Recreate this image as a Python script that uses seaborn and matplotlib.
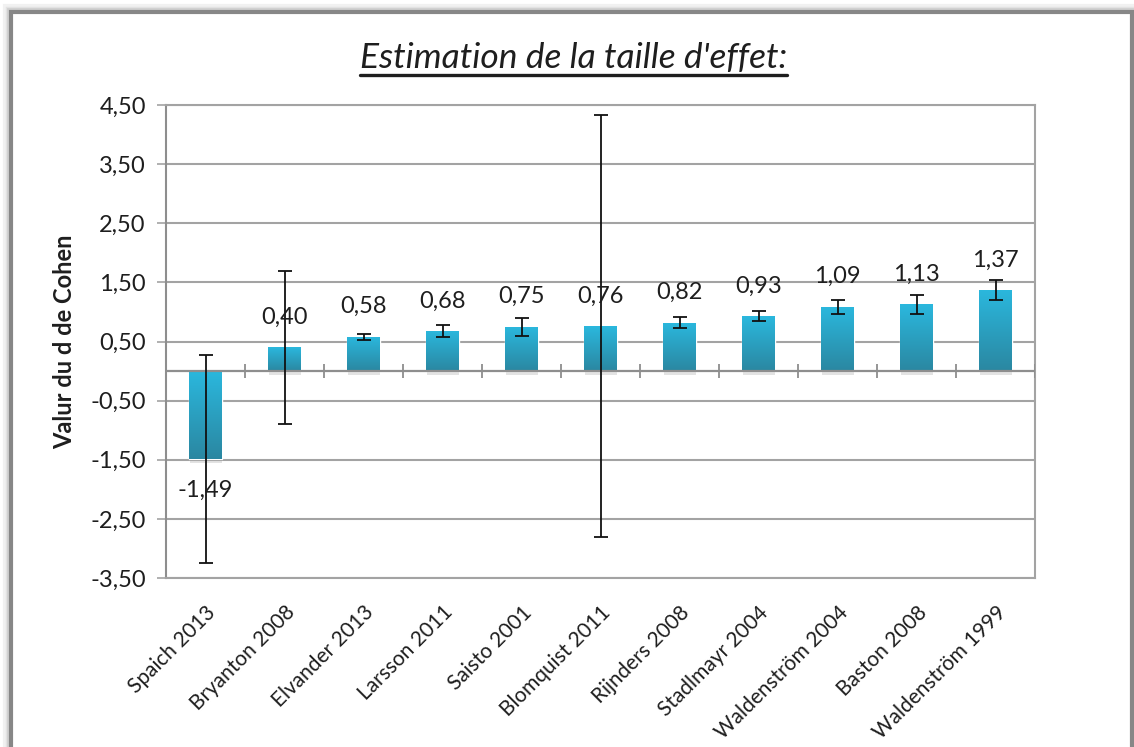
import numpy as np
import pandas as pd
import matplotlib
matplotlib.use('Agg')
import matplotlib.pyplot as plt
import seaborn as sns
from matplotlib import patheffects
from matplotlib.lines import Line2D
from matplotlib.patches import Rectangle
from matplotlib.colors import LinearSegmentedColormap

# données
etudes = ['Spaich 2013', 'Bryanton 2008', 'Elvander 2013', 'Larsson 2011',
          'Saisto 2001', 'Blomquist 2011', 'Rijnders 2008', 'Stadlmayr 2004',
          'Waldenström 2004', 'Baston 2008', 'Waldenström 1999']
d_cohen = [-1.49, 0.40, 0.58, 0.68, 0.75, 0.76, 0.82, 0.93, 1.09, 1.13, 1.37]
erreur = [1.76, 1.30, 0.05, 0.10, 0.15, 3.57, 0.09, 0.085, 0.12, 0.16, 0.17]
graduations = np.arange(-3.5, 4.51, 1.0)

df = pd.DataFrame({'etude': etudes, 'd': d_cohen, 'err': erreur})

sns.set_style('white')
plt.rcParams['font.family'] = ['Lato', 'DejaVu Sans']
gris = '#a3a3a3'
texte = '#1e1e1e'

fig = plt.figure(figsize=(11.34, 7.47), dpi=100)
ax = fig.add_axes([166 / 1134, 1 - 578 / 747, (1035 - 166) / 1134, (578 - 105) / 747])

sns.barplot(data=df, x='etude', y='d', width=0.41, color='#2aa3c4',
            ax=ax, zorder=3)

# dégradé + ombre des barres
cmap = LinearSegmentedColormap.from_list('bleu', ['#2bb8de', '#2a87a1'])
grad = np.linspace(0, 1, 256).reshape(-1, 1)
for p in ax.patches:
    p.set_path_effects([patheffects.SimplePatchShadow(offset=(0.5, -3), alpha=0.15, shadow_rgbFace='#444444'),
                        patheffects.Normal()])
    x0, y0 = p.get_x(), p.get_y()
    w, h = p.get_width(), p.get_height()
    im = ax.imshow(grad, cmap=cmap, aspect='auto', origin='upper',
                   extent=[x0, x0 + w, min(y0, y0 + h), max(y0, y0 + h)], zorder=4)
    im.set_clip_path(p)

# barres d'erreur
ax.errorbar(np.arange(len(etudes)), df['d'], yerr=df['err'], fmt='none',
            ecolor='#111111', elinewidth=1.3, capsize=5, capthick=1.3, zorder=6)

# étiquettes de valeurs
for i, v in enumerate(d_cohen):
    lab = f'{v:.2f}'.replace('.', ',')
    if v >= 0:
        ax.annotate(lab, (i, v), xytext=(0, 14), textcoords='offset points',
                    ha='center', va='bottom', fontsize=17, color=texte, zorder=7)
    else:
        ax.annotate(lab, (i, v), xytext=(0, -15), textcoords='offset points',
                    ha='center', va='top', fontsize=17, color=texte, zorder=7)

ax.set_ylim(-3.5, 4.5)
ax.set_xlim(-0.5, len(etudes) - 0.5)
ax.set_yticks(graduations)
ax.set_yticklabels([f'{t:.2f}'.replace('.', ',') for t in graduations])
ax.yaxis.grid(True, color=gris, lw=1.5, zorder=0)
ax.set_axisbelow(True)

# axe horizontal à zéro avec graduations entre catégories
ax.axhline(0, color='#8e8e8e', lw=1.6, zorder=5)
ax.vlines(np.arange(len(etudes) + 1) - 0.5, -0.12, 0.12, color='#8e8e8e', lw=1.3, zorder=5)

for s in ['left', 'right', 'top', 'bottom']:
    ax.spines[s].set_visible(True)
    ax.spines[s].set_color(gris)
    ax.spines[s].set_linewidth(1.5)
ax.spines['left'].set_color('#8e8e8e')

ax.tick_params(axis='y', left=True, length=6.5, width=1.2, color=gris,
               labelsize=17, labelcolor=texte, pad=8)
ax.tick_params(axis='x', bottom=False, labelsize=15, labelcolor=texte, pad=14)
plt.setp(ax.get_xticklabels(), rotation=45, ha='right', rotation_mode='anchor')

ax.set_xlabel('')
ax.set_ylabel('Valur du d de Cohen', fontsize=17, fontweight='bold', color=texte, labelpad=10)

# titre souligné
titre = fig.text(0.506, 1 - 58 / 747, "Estimation de la taille d'effet:", ha='center', va='center',
                 fontsize=25.5, style='italic', color=texte)
fig.canvas.draw()
bb = titre.get_window_extent().transformed(fig.transFigure.inverted())
fig.add_artist(Line2D([bb.x0, bb.x1], [bb.y0 - 0.002, bb.y0 - 0.002], transform=fig.transFigure,
                      color=texte, lw=2.4))

# cadre de la figure avec légère ombre
for off, col, lw in [(6, '#f1f1f1', 3), (4, '#e2e2e2', 2.5), (2.5, '#cfcfcf', 2)]:
    fig.add_artist(Rectangle((10.5 - off, -20), 1121 + off, 735.5 + off + 20,
                             transform=None, fill=False, edgecolor=col, lw=lw))
fig.add_artist(Rectangle((10.5, -20), 1121, 735.5 + 20, transform=None,
                         fill=False, edgecolor='#878787', lw=3))

fig.savefig('out.png', dpi=100)
